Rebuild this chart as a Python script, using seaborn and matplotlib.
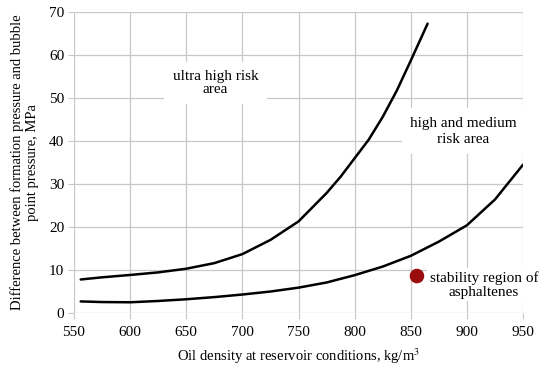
import matplotlib
matplotlib.use("Agg")
import matplotlib.pyplot as plt
import seaborn as sns
import pandas as pd

# curve values
dens_upper = [556, 575, 600, 625, 650, 675, 700, 725, 750, 775, 787.5, 800,
              812.5, 825, 837.5, 850, 865]
dp_upper = [7.8, 8.3, 8.85, 9.45, 10.3, 11.6, 13.7, 17.0, 21.3, 27.9, 31.7, 36.0,
            40.3, 45.6, 51.7, 58.7, 67.3]

dens_lower = [556, 575, 600, 625, 650, 675, 700, 725, 750, 775, 800, 825, 850,
              875, 900, 925, 950]
dp_lower = [2.7, 2.55, 2.5, 2.8, 3.2, 3.7, 4.3, 5.0, 5.9, 7.1, 8.8, 10.8, 13.3,
            16.6, 20.4, 26.4, 34.5]

stab_x = [855.5]
stab_y = [8.6]

x_ticks = [550, 600, 650, 700, 750, 800, 850, 900, 950]
y_ticks = [0, 10, 20, 30, 40, 50, 60, 70]

sns.set_style("white")
plt.rcParams["font.family"] = ["Liberation Serif", "DejaVu Serif"]
plt.rcParams["mathtext.fontset"] = "stix"
plt.rcParams["text.color"] = "black"
plt.rcParams["axes.labelcolor"] = "black"

fig = plt.figure(figsize=(5.5, 3.7), dpi=100)
ax = fig.add_axes([0.1345, 0.154, 0.8165, 0.8136])

upper = pd.DataFrame({"x": dens_upper, "y": dp_upper})
lower = pd.DataFrame({"x": dens_lower, "y": dp_lower})

ax.set_axisbelow(True)
ax.grid(True, color="#c8c8c8", linewidth=0.9)

for d in (upper, lower):
    sns.lineplot(data=d, x="x", y="y", color="black", linewidth=1.8, ax=ax)
for ln in ax.lines:
    ln.set_solid_joinstyle("round")

box = dict(facecolor="white", edgecolor="none", pad=6)
ax.text(676, 53.5, "ultra high risk\narea", ha="center", va="center",
        fontsize=11, linespacing=1.0, bbox=box)
ax.text(897, 42.3, "high and medium\nrisk area", ha="center", va="center",
        fontsize=11, linespacing=1.3, bbox=box)

sns.scatterplot(x=stab_x, y=stab_y, color="#9b0c0c", s=110, edgecolor="none", ax=ax, zorder=5)
ax.text(915, 6.6, "stability region of\nasphaltenes", ha="center", va="center",
        fontsize=11, linespacing=1.1,
        bbox=dict(facecolor="white", edgecolor="none", pad=2), zorder=4)

ax.set_xlim(550, 950)
ax.set_ylim(0, 70)
ax.set_xticks(x_ticks)
ax.set_yticks(y_ticks)
for s in ax.spines.values():
    s.set_visible(False)
ax.tick_params(axis="both", length=4, color="#c8c8c8", labelsize=11,
               labelcolor="black", bottom=True, left=True)
ax.tick_params(axis="x", pad=5)
ax.tick_params(axis="y", pad=3)

ax.set_xlabel("Oil density at reservoir conditions, kg/m$^3$", fontsize=10.5, labelpad=6)
ax.set_ylabel("Difference between formation pressure and bubble\npoint pressure, MPa",
              fontsize=10.5, labelpad=7)

fig.savefig("out.png", dpi=100)
